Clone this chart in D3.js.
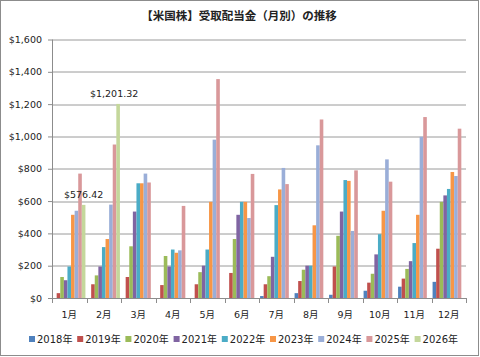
<!DOCTYPE html>
<html><head><meta charset="utf-8">
<script src="https://cdn.jsdelivr.net/npm/d3@7"></script>
<style>
html,body{margin:0;padding:0;background:#fff;}
svg{display:block;}
</style></head>
<body>
<svg id="c" width="480" height="357"></svg>
<script>
const title = "【米国株】受取配当金（月別）の推移";
const months = ["1月","2月","3月","4月","5月","6月","7月","8月","9月","10月","11月","12月"];
const seriesNames = ["2018年","2019年","2020年","2021年","2022年","2023年","2024年","2025年","2026年"];
const colors = ["#4F81BD","#C0504D","#9BBB59","#8064A2","#4BACC6","#F79646","#9AAED8","#D9989A","#C4D79B"];
const yTicks = [0,200,400,600,800,1000,1200,1400,1600];
const v2018 = [0,0,0,0,0,0,12,30,20,45,70,100];
const v2019 = [30,85,130,80,85,155,85,105,195,95,120,305];
const v2020 = [130,140,320,260,160,365,135,175,385,150,180,595];
const v2021 = [110,195,535,195,200,515,255,200,535,270,228,635];
const v2022 = [195,315,710,300,300,595,575,200,730,395,340,675];
const v2023 = [515,365,710,280,595,595,672,450,725,540,515,780];
const v2024 = [540,578,770,295,980,495,805,945,415,858,998,755];
const v2025 = [770,950,715,570,1355,768,705,1105,790,720,1120,1048];
const v2026 = [576.42,1201.32,null,null,null,null,null,null,null,null,null,null];
const values = [v2018,v2019,v2020,v2021,v2022,v2023,v2024,v2025,v2026];
const labeled = [[8,0],[8,1]];

const svg = d3.select("#c");
const W = 480, H = 357;
const m = {left:52, right:14, top:39.5, bottom:59};
const pw = W - m.left - m.right, ph = H - m.top - m.bottom;
const fontNum = "'DejaVu Sans','Noto Sans CJK JP',sans-serif";

svg.append("rect").attr("x",0.5).attr("y",0.5).attr("width",W-2).attr("height",H-2)
  .attr("fill","#fff").attr("stroke","#8c8c8c");

svg.append("text").attr("x",239).attr("y",20).attr("text-anchor","middle")
  .attr("font-family","'Noto Sans CJK JP',sans-serif").attr("font-size","11.5px").attr("font-weight","bold")
  .attr("fill","#222").text(title);

const g = svg.append("g").attr("transform",`translate(${m.left},${m.top})`);
const x = d3.scaleBand().domain(months).range([0,pw]).paddingInner(0).paddingOuter(0);
const xs = d3.scaleBand().domain(seriesNames).range([0,x.bandwidth()]).paddingOuter(0.3).paddingInner(0);
const y = d3.scaleLinear().domain([0,1600]).range([ph,0]);

// gridlines
g.append("g").selectAll("line").data(yTicks.slice(1)).join("line")
  .attr("x1",0).attr("x2",pw).attr("y1",d=>Math.round(y(d))+0.5).attr("y2",d=>Math.round(y(d))+0.5)
  .attr("stroke","#9a9a9a").attr("stroke-width",1);

// bars
const grp = g.append("g").selectAll("g").data(months).join("g")
  .attr("transform",d=>`translate(${x(d)},0)`);
grp.selectAll("rect").data((d,i)=>seriesNames.map((s,j)=>({s,j,v:values[j][i]})).filter(e=>e.v))
  .join("rect")
  .attr("x",e=>xs(e.s)).attr("width",xs.bandwidth())
  .attr("y",e=>y(e.v)).attr("height",e=>ph-y(e.v))
  .attr("fill",e=>colors[e.j]);

// data labels
labeled.forEach(([j,i])=>{
  const v = values[j][i];
  g.append("text").attr("x",x(months[i])+xs(seriesNames[j])+xs.bandwidth()/2-(i===1?4:0))
    .attr("y",y(v)-7).attr("text-anchor","middle")
    .attr("font-family",fontNum).attr("font-size","9.5px").attr("fill","#222")
    .text("$"+d3.format(",.2f")(v));
});

// y axis
const ya = g.append("g").call(d3.axisLeft(y).tickValues(yTicks).tickSize(4).tickFormat(d=>"$"+d3.format(",")(d)).tickPadding(6));
ya.select(".domain").attr("stroke","#8c8c8c").attr("d",`M0.5,${ph}V0`);
ya.selectAll(".tick line").attr("stroke","#8c8c8c");
ya.selectAll("text").attr("font-family",fontNum).attr("font-size","9.5px").attr("fill","#222");

// x axis
const xa = g.append("g").attr("transform",`translate(0,${ph})`);
xa.append("line").attr("x1",0).attr("x2",pw).attr("y1",0.5).attr("y2",0.5).attr("stroke","#8c8c8c");
xa.selectAll(".tk").data(d3.range(months.length+1)).join("line").attr("class","tk")
  .attr("x1",i=>Math.round(i*x.step())+0.5).attr("x2",i=>Math.round(i*x.step())+0.5)
  .attr("y1",0).attr("y2",5).attr("stroke","#8c8c8c");
xa.selectAll("text").data(months).join("text")
  .attr("x",d=>x(d)+x.bandwidth()/2).attr("y",20).attr("text-anchor","middle")
  .attr("font-family",fontNum).attr("font-size","9.5px").attr("fill","#222").text(d=>d);

// legend
const lg = svg.append("g").attr("transform","translate(29,339)");
const li = lg.selectAll("g").data(seriesNames).join("g").attr("transform",(d,i)=>`translate(${i*48.2},0)`);
li.append("rect").attr("x",0).attr("y",-3).attr("width",6).attr("height",6).attr("fill",(d,i)=>colors[i]);
li.append("text").attr("x",8).attr("y",3.8).attr("font-family",fontNum).attr("font-size","10px").attr("fill","#222").text(d=>d);
</script>
</body></html>
